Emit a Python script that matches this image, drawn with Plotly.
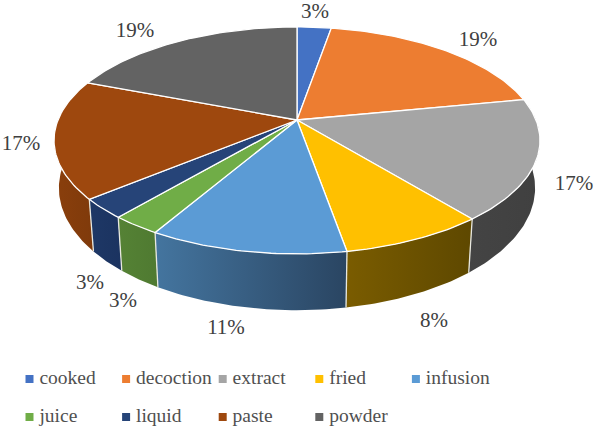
import math
import plotly.graph_objects as go

categories = ["cooked", "decoction", "extract", "fried", "infusion", "juice", "liquid", "paste", "powder"]
values = [2.7, 19.2, 17.2, 8.1, 11.1, 2.8, 2.8, 16.9, 19.1]
shown_percent = ["3%", "19%", "17%", "8%", "11%", "3%", "3%", "17%", "19%"]

top_colors = ["#4472C4", "#ED7D31", "#A5A5A5", "#FFC000", "#5B9BD5", "#70AD47", "#264478", "#9E480E", "#636363"]
side_left = ["#2F5597", "#A85A22", "#444444", "#7A5C00", "#44759F", "#558235", "#1E3866", "#8A3F0C", "#444444"]
side_right = ["#2F5597", "#A85A22", "#404040", "#5E4800", "#2A4562", "#4F7A31", "#1B3360", "#7F3A0B", "#444444"]

label_xy = [(315, 13), (478, 41), (574, 185), (434, 322), (226, 329), (123, 302), (90, 284), (21, 145), (135, 32)]

W, H = 597, 432
CX, CY, A, B, K = 297, 120, 239, 109.8, 0.18


def top_pt(deg):
    t = math.radians(deg)
    u, v = math.sin(t), math.cos(t)
    d = 1 + K * v
    return CX + A * u / d, CY - B * v / d


def bot_pt(deg):
    x, y = top_pt(deg)
    return CX + (x - CX) * 0.98, CY + (y - CY) * 1.077 + 46


def arc(fn, a, b):
    n = max(2, int(abs(b - a)) + 1)
    return [fn(a + (b - a) * i / (n - 1)) for i in range(n)]


total = sum(values)
edges = [0]
for val in values:
    edges.append(edges[-1] + val / total * 360)

fig = go.Figure()

# side walls
VIS_A, VIS_B = 82, 278
seam_x, seam_y = [], []
for i, cat in enumerate(categories):
    a, b = max(edges[i], VIS_A), min(edges[i + 1], VIS_B)
    if b <= a:
        continue
    pts = arc(top_pt, a, b) + arc(bot_pt, b, a)
    xs = [p[0] for p in pts] + [pts[0][0]]
    ys = [p[1] for p in pts] + [pts[0][1]]
    fig.add_trace(go.Scatter(
        x=xs, y=ys, mode="lines", line=dict(width=0), fill="toself",
        fillgradient=dict(type="horizontal",
                          colorscale=[[0, side_left[i]], [1, side_right[i]]]),
        hoverinfo="skip", showlegend=False))
    if VIS_A < edges[i + 1] < VIS_B:
        p, q = top_pt(edges[i + 1]), bot_pt(edges[i + 1])
        seam_x += [p[0], q[0], None]
        seam_y += [p[1], q[1], None]

fig.add_trace(go.Scatter(x=seam_x, y=seam_y, mode="lines",
                         line=dict(color="#E8E8E0", width=1.3),
                         hoverinfo="skip", showlegend=False))

# top face
for i, cat in enumerate(categories):
    pts = [(CX, CY)] + arc(top_pt, edges[i], edges[i + 1]) + [(CX, CY)]
    fig.add_trace(go.Scatter(
        x=[p[0] for p in pts], y=[p[1] for p in pts], mode="lines",
        line=dict(color="white", width=1.3), fill="toself",
        fillcolor=top_colors[i], name=cat, text=shown_percent[i],
        hoverinfo="name+text", showlegend=False))

# percent labels
fig.add_trace(go.Scatter(
    x=[p[0] for p in label_xy], y=[p[1] for p in label_xy], mode="text",
    text=shown_percent, textposition="middle center", cliponaxis=False,
    textfont=dict(family="Liberation Serif", size=21, color="#404040"),
    hoverinfo="skip", showlegend=False))

# legend grid
for i, cat in enumerate(categories):
    col, row = i % 5, i // 5
    fig.add_trace(go.Scatter(
        x=[29.5 + col * 96.6], y=[379 + row * 38], mode="markers+text",
        marker=dict(symbol="square", size=8, color=top_colors[i]),
        text=["\u2009" + cat], textposition="middle right", cliponaxis=False,
        textfont=dict(family="Liberation Serif", size=19.5, color="#505050"),
        hoverinfo="skip", showlegend=False))

fig.update_layout(
    width=W, height=H, margin=dict(l=0, r=0, t=0, b=0),
    paper_bgcolor="white", plot_bgcolor="white", showlegend=False,
    xaxis=dict(range=[0, W], visible=False, fixedrange=True),
    yaxis=dict(range=[H, 0], visible=False, fixedrange=True),
)
fig.write_html("out.html", config={"displayModeBar": False},
               post_script="document.body.style.margin='0';document.body.style.overflow='hidden';")
